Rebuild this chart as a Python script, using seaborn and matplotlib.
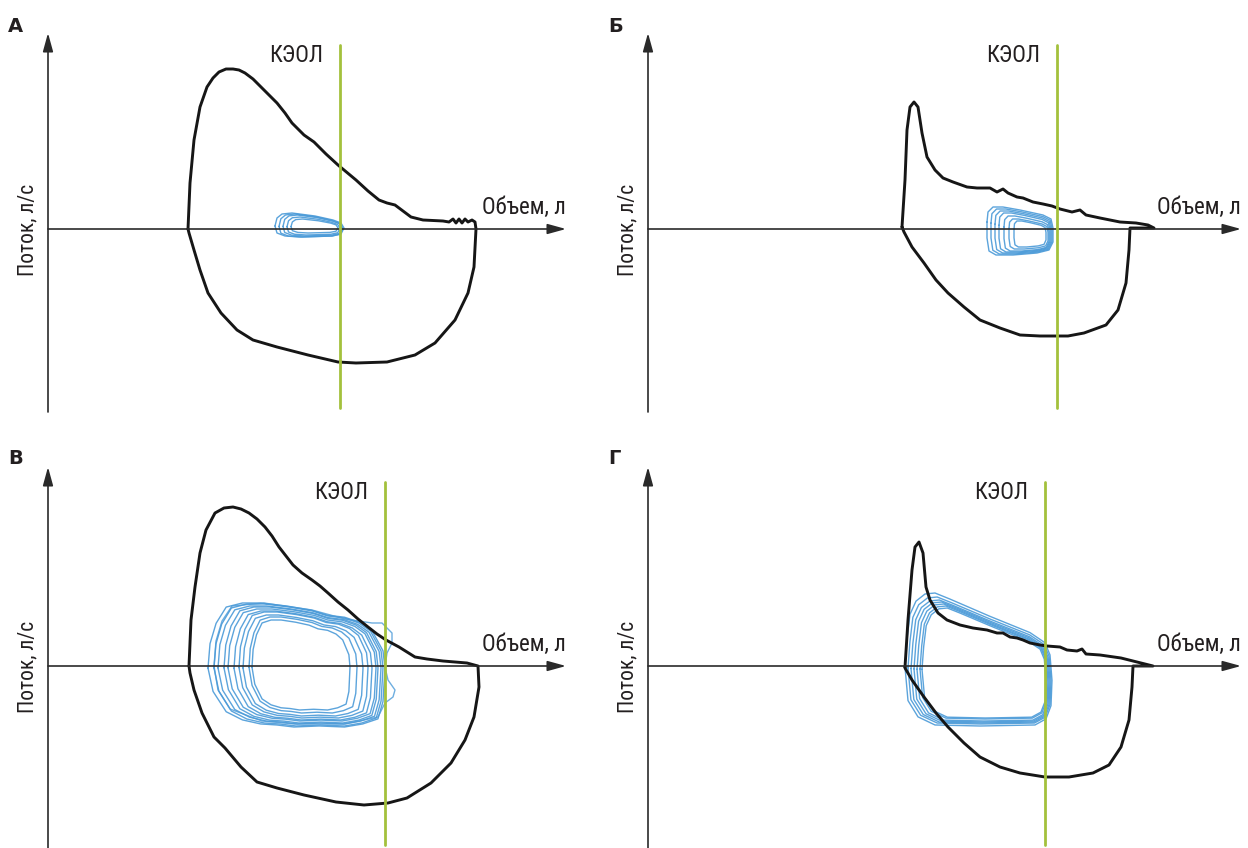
import matplotlib
matplotlib.use("Agg")
import matplotlib.pyplot as plt
import numpy as np
import seaborn as sns

# ---- data: flow-volume loops (volume, flow) ----
panel_letters = ["А", "Б", "В", "Г"]
keol_label = "КЭОЛ"
x_label = "Объем, л"
y_label = "Поток, л/с"

# maximal flow-volume loops (black)
max_vol_a = [1.40, 1.42, 1.46, 1.52, 1.59, 1.65, 1.71, 1.78, 1.85, 1.91, 1.97, 2.05, 2.13,
             2.21, 2.29, 2.37, 2.44, 2.56, 2.66, 2.78, 2.90, 3.08, 3.20, 3.31, 3.39, 3.47,
             3.55, 3.63, 3.75, 3.95, 4.01, 4.05, 4.08, 4.11, 4.14, 4.17, 4.20, 4.24, 4.27,
             4.28, 4.26, 4.20, 4.07, 3.87, 3.67, 3.39, 3.08, 2.90, 2.60, 2.29, 2.05, 1.89,
             1.73, 1.60, 1.52, 1.46, 1.41]
max_flow_a = [0.00, 0.46, 0.89, 1.22, 1.42, 1.51, 1.57, 1.60, 1.60, 1.59, 1.56, 1.50, 1.42,
              1.34, 1.26, 1.16, 1.06, 0.94, 0.87, 0.75, 0.64, 0.49, 0.38, 0.29, 0.26, 0.24,
              0.18, 0.12, 0.09, 0.08, 0.07, 0.10, 0.06, 0.10, 0.06, 0.10, 0.07, 0.09, 0.07,
              0.00, -0.38, -0.64, -0.91, -1.14, -1.26, -1.33, -1.34, -1.33, -1.26, -1.18,
              -1.11, -1.01, -0.84, -0.64, -0.41, -0.21, -0.04]

max_vol_b = [2.54, 2.57, 2.59, 2.62, 2.66, 2.70, 2.74, 2.79, 2.87, 2.95, 3.05, 3.19, 3.29,
             3.42, 3.49, 3.55, 3.60, 3.69, 3.75, 3.85, 3.95, 4.04, 4.12, 4.24, 4.32, 4.38,
             4.52, 4.72, 4.88, 5.00, 5.06, 4.82, 4.81, 4.78, 4.70, 4.58, 4.36, 4.20, 3.92,
             3.72, 3.52, 3.32, 3.16, 3.00, 2.88, 2.76, 2.64, 2.56]
max_flow_b = [0.02, 0.49, 0.99, 1.22, 1.27, 1.22, 0.96, 0.72, 0.59, 0.51, 0.47, 0.42, 0.41,
              0.41, 0.37, 0.40, 0.36, 0.32, 0.31, 0.27, 0.25, 0.23, 0.20, 0.17, 0.19, 0.14,
              0.11, 0.07, 0.06, 0.04, 0.01, 0.01, -0.21, -0.54, -0.81, -0.96, -1.04, -1.07,
              -1.07, -1.06, -0.99, -0.91, -0.78, -0.64, -0.51, -0.34, -0.18, -0.03]

max_vol_c = [1.41, 1.43, 1.47, 1.52, 1.58, 1.67, 1.76, 1.85, 1.93, 2.01, 2.09, 2.17, 2.24,
             2.31, 2.38, 2.45, 2.54, 2.64, 2.72, 2.80, 2.90, 3.00, 3.10, 3.20, 3.29, 3.38,
             3.51, 3.67, 3.79, 3.95, 4.19, 4.30, 4.31, 4.26, 4.17, 4.03, 3.83, 3.59, 3.40,
             3.16, 2.88, 2.56, 2.29, 2.09, 1.93, 1.77, 1.66, 1.54, 1.46, 1.42]
max_flow_c = [0.00, 0.46, 0.79, 1.13, 1.36, 1.53, 1.58, 1.59, 1.57, 1.53, 1.47, 1.39, 1.30,
              1.19, 1.10, 1.01, 0.93, 0.86, 0.80, 0.73, 0.64, 0.56, 0.47, 0.39, 0.32, 0.26,
              0.19, 0.09, 0.07, 0.05, 0.03, 0.00, -0.21, -0.51, -0.74, -0.97, -1.17, -1.32,
              -1.37, -1.39, -1.36, -1.29, -1.22, -1.16, -1.01, -0.82, -0.71, -0.47, -0.24,
              -0.07]

max_vol_d = [2.57, 2.60, 2.64, 2.67, 2.71, 2.75, 2.78, 2.82, 2.90, 2.99, 3.12, 3.25, 3.39,
             3.49, 3.55, 3.62, 3.69, 3.75, 3.82, 3.92, 3.99, 4.12, 4.19, 4.29, 4.34, 4.38,
             4.52, 4.73, 4.93, 5.05, 4.85, 4.84, 4.81, 4.73, 4.61, 4.45, 4.21, 3.97, 3.72,
             3.52, 3.32, 3.16, 3.00, 2.88, 2.76, 2.64, 2.57]
max_flow_d = [-0.01, 0.46, 0.96, 1.19, 1.24, 1.13, 0.79, 0.66, 0.53, 0.46, 0.41, 0.38, 0.36,
              0.33, 0.33, 0.29, 0.28, 0.26, 0.23, 0.21, 0.20, 0.19, 0.16, 0.15, 0.17, 0.12,
              0.11, 0.08, 0.03, 0.00, 0.00, -0.21, -0.54, -0.81, -0.99, -1.07, -1.11, -1.11,
              -1.07, -1.01, -0.91, -0.77, -0.61, -0.47, -0.31, -0.14, -0.02]

# tidal loops (blue): outline of the outermost loop + extent of every loop
tid_vol_a = [2.27, 2.29, 2.34, 2.44, 2.67, 2.85, 2.93, 2.96, 2.93, 2.84, 2.52, 2.37, 2.29]
tid_flow_a = [0.03, 0.11, 0.15, 0.16, 0.13, 0.09, 0.06, 0.01, -0.05, -0.07, -0.08, -0.07, -0.04]
tid_left_a = [2.27, 2.31, 2.35, 2.39, 2.43]
tid_right_a = [2.96, 2.95, 2.94, 2.92, 2.90]
tid_top_a = [0.16, 0.15, 0.14, 0.12, 0.10]
tid_bottom_a = [-0.08, -0.08, -0.07, -0.06, -0.04]

tid_vol_b = [3.39, 3.40, 3.45, 3.55, 3.72, 3.95, 4.03, 4.05, 4.05, 4.01, 3.89, 3.65, 3.48,
             3.41, 3.39]
tid_flow_b = [0.07, 0.17, 0.22, 0.22, 0.19, 0.14, 0.10, 0.01, -0.13, -0.21, -0.24, -0.26,
              -0.26, -0.22, -0.09]
tid_left_b = [3.39, 3.43, 3.47, 3.51, 3.56, 3.61, 3.66]
tid_right_b = [4.05, 4.04, 4.03, 4.02, 4.01, 4.00, 3.98]
tid_top_b = [0.22, 0.20, 0.18, 0.16, 0.13, 0.10, 0.08]
tid_bottom_b = [-0.26, -0.25, -0.24, -0.23, -0.22, -0.20, -0.18]

tid_vol_c = [1.62, 1.64, 1.70, 1.80, 1.96, 2.14, 2.40, 2.64, 2.80, 2.97, 3.12, 3.24, 3.35,
             3.37, 3.35, 3.30, 3.15, 2.97, 2.72, 2.47, 2.30, 2.14, 1.96, 1.80, 1.67]
tid_flow_c = [-0.01, 0.23, 0.43, 0.59, 0.63, 0.63, 0.60, 0.56, 0.51, 0.49, 0.44, 0.36,
              0.16, -0.01, -0.34, -0.51, -0.56, -0.59, -0.58, -0.59, -0.57, -0.56, -0.52,
              -0.44, -0.24]
tid_left_c = [1.60, 1.66, 1.70, 1.76, 1.80, 1.86, 1.91, 1.95, 2.01, 2.04]
tid_right_c = [3.37, 3.35, 3.33, 3.30, 3.28, 3.24, 3.20, 3.15, 3.09, 3.02]
tid_top_c = [0.63, 0.62, 0.60, 0.59, 0.57, 0.55, 0.54, 0.51, 0.49, 0.46]
tid_bottom_c = [-0.61, -0.60, -0.58, -0.57, -0.55, -0.54, -0.52, -0.50, -0.47, -0.44]
# one breath in panel В bulges past КЭОЛ
tid_extra_vol_c = [1.66, 1.68, 1.74, 1.84, 2.16, 2.64, 2.97, 3.24, 3.34, 3.44, 3.44, 3.39,
                   3.37, 3.40, 3.47, 3.45, 3.37, 3.30, 2.97, 2.47, 2.14, 1.82, 1.70]
tid_extra_flow_c = [0.00, 0.25, 0.45, 0.60, 0.63, 0.56, 0.47, 0.43, 0.43, 0.33, 0.23, 0.13,
                    -0.01, -0.14, -0.24, -0.31, -0.37, -0.51, -0.58, -0.58, -0.55, -0.43, -0.24]

tid_vol_d = [2.57, 2.59, 2.62, 2.68, 2.77, 2.87, 3.02, 3.42, 3.82, 3.97, 4.02, 4.04, 4.03,
             3.98, 3.87, 3.32, 2.87, 2.70, 2.60]
tid_flow_d = [-0.01, 0.26, 0.51, 0.64, 0.71, 0.72, 0.66, 0.49, 0.33, 0.23, 0.11, -0.14,
              -0.39, -0.52, -0.58, -0.59, -0.58, -0.50, -0.34]
tid_left_d = [2.57, 2.60, 2.63, 2.66, 2.69, 2.72, 2.74]
tid_right_d = [4.04, 4.03, 4.02, 4.01, 4.00, 3.99, 3.98]
tid_top_d = [0.73, 0.69, 0.66, 0.64, 0.62, 0.60, 0.58]
tid_bottom_d = [-0.60, -0.58, -0.57, -0.56, -0.55, -0.53, -0.52]

# КЭОЛ (end-expiratory lung volume) position per panel
keol_vol = [2.92, 4.09, 3.37, 3.97]

# ---- layout (figure pixels) ----
W, H = 1248, 848
origins = [(48, 229), (648, 229), (48, 666), (648, 666)]
quads = [(0, 0, 624, 424), (624, 0, 1248, 424), (0, 424, 624, 848), (624, 424, 1248, 848)]
x_axis_end = [5.18, 5.93, 5.18, 5.93]
y_axis_span = [(-1.83, 1.96), (-1.83, 1.96), (-1.82, 1.99), (-1.82, 1.99)]
letter_y = [2.03, 2.03, 2.08, 2.08]

BLACK = "#161616"
BLUE = "#4a9ad8"
GREEN = "#a3c13c"
AXIS = "#2a2a2a"
TEXT = "#231f20"

sns.set_theme(style="white")
plt.rcParams["font.family"] = ["Roboto Condensed", "IBM Plex Sans Condensed", "DejaVu Sans"]

panels = [
    (max_vol_a, max_flow_a, tid_vol_a, tid_flow_a, tid_left_a, tid_right_a, tid_top_a, tid_bottom_a),
    (max_vol_b, max_flow_b, tid_vol_b, tid_flow_b, tid_left_b, tid_right_b, tid_top_b, tid_bottom_b),
    (max_vol_c, max_flow_c, tid_vol_c, tid_flow_c, tid_left_c, tid_right_c, tid_top_c, tid_bottom_c),
    (max_vol_d, max_flow_d, tid_vol_d, tid_flow_d, tid_left_d, tid_right_d, tid_top_d, tid_bottom_d),
]


def closed(v):
    v = np.asarray(v, dtype=float)
    return np.append(v, v[0])


fig = plt.figure(figsize=(W / 100, H / 100), dpi=100)
arrow = "-|>,head_length=0.8,head_width=0.22"

for i, (mv, mf, tv, tf, tl, tr, tt, tb) in enumerate(panels):
    x0, y0 = origins[i]
    qx0, qy0, qx1, qy1 = quads[i]
    ax = fig.add_axes([qx0 / W, 1 - qy1 / H, (qx1 - qx0) / W, (qy1 - qy0) / H])
    ax.set_xlim((qx0 - x0) / 100, (qx1 - x0) / 100)
    ax.set_ylim((y0 - qy1) / 100, (y0 - qy0) / 100)
    ax.axis("off")

    # axes with arrows
    ax.annotate("", xy=(x_axis_end[i], 0), xytext=(0, 0),
                arrowprops=dict(arrowstyle=arrow, lw=1.2, color=AXIS,
                                shrinkA=0, shrinkB=0, mutation_scale=14))
    ylo, yhi = y_axis_span[i]
    ax.annotate("", xy=(0, yhi), xytext=(0, ylo),
                arrowprops=dict(arrowstyle=arrow, lw=1.2, color=AXIS,
                                shrinkA=0, shrinkB=0, mutation_scale=14))

    # tidal loops
    tv = np.asarray(tv)
    tf = np.asarray(tf)
    nv = (tv - tv.min()) / (tv.max() - tv.min())
    nf = (tf - tf.min()) / (tf.max() - tf.min())
    for l, r, t, b in zip(tl, tr, tt, tb):
        sns.lineplot(x=closed(l + nv * (r - l)), y=closed(b + nf * (t - b)), sort=False,
                     estimator=None, color=BLUE, lw=1.0, alpha=0.9, ax=ax)
    if i == 2:
        sns.lineplot(x=closed(tid_extra_vol_c), y=closed(tid_extra_flow_c), sort=False,
                     estimator=None, color=BLUE, lw=1.0, alpha=0.8, ax=ax)

    # maximal loop
    line = sns.lineplot(x=closed(mv), y=closed(mf), sort=False, estimator=None,
                        color=BLACK, lw=2.1, ax=ax)
    line.lines[-1].set_solid_joinstyle("round")

    # КЭОЛ line
    ax.plot([keol_vol[i], keol_vol[i]], [-1.79, 1.84], color=GREEN, lw=2.0, zorder=5)
    ax.text(keol_vol[i] - 0.17, 1.74, keol_label, ha="right", va="center",
            fontsize=16.5, color=TEXT)

    ax.text(x_axis_end[i], 0.22, x_label, ha="right", va="center",
            fontsize=16.5, color=TEXT)
    ax.text(-0.20, -0.01, y_label, ha="center", va="center", rotation=90,
            fontsize=15.5, color=TEXT)
    ax.text(-0.40, letter_y[i], panel_letters[i], ha="left", va="center",
            fontsize=14, fontweight="bold", family=["DejaVu Sans"], color=TEXT)

fig.savefig("out.png", dpi=100)
